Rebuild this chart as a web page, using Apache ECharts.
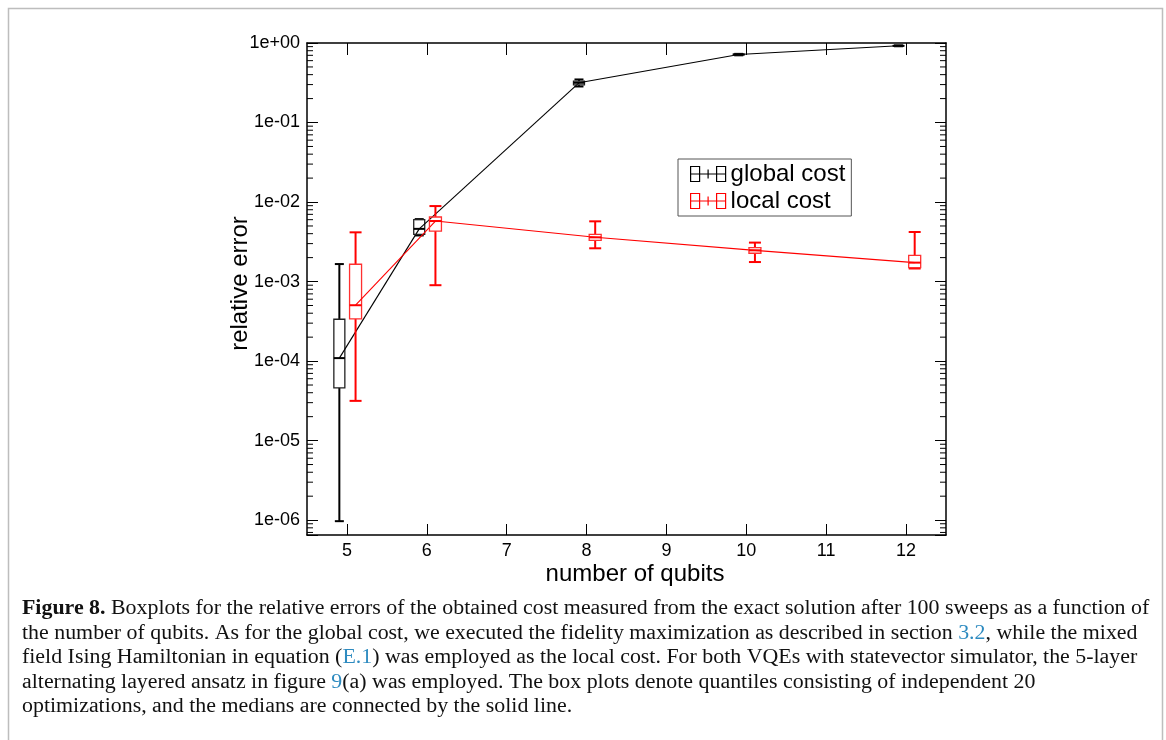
<!DOCTYPE html>
<html>
<head>
<meta charset="utf-8">
<script src="https://cdn.jsdelivr.net/npm/echarts/dist/echarts.min.js"></script>
<style>
  html, body { margin: 0; padding: 0; background: #fff; }
  #chart { width: 1166px; height: 740px; }
</style>
</head>
<body>
<div id="chart"></div>
<script>
// ---------------- data ----------------
const xTickLabels = ['5', '6', '7', '8', '9', '10', '11', '12'];
const yTickLabels = ['1e-06', '1e-05', '1e-04', '1e-03', '1e-02', '1e-01', '1e+00'];
const qubits = [5, 6, 8, 10, 12];

const globalMin    = [9.7e-7, 3.8e-3, 0.284, 0.700, 0.910];
const globalQ1     = [4.6e-5, 3.93e-3, 0.298, 0.710, 0.916];
const globalMedian = [1.09e-4, 4.6e-3, 0.316, 0.717, 0.922];
const globalQ3     = [3.36e-4, 6.0e-3, 0.331, 0.725, 0.928];
const globalMax    = [1.66e-3, 6.1e-3, 0.348, 0.730, 0.934];

const localMin    = [3.16e-5, 9.0e-4, 2.62e-3, 1.76e-3, 1.46e-3];
const localQ1     = [3.39e-4, 4.32e-3, 3.30e-3, 2.27e-3, 1.50e-3];
const localMedian = [5.04e-4, 5.77e-3, 3.60e-3, 2.47e-3, 1.73e-3];
const localQ3     = [1.65e-3, 6.48e-3, 3.93e-3, 2.67e-3, 2.14e-3];
const localMax    = [4.16e-3, 8.9e-3, 5.72e-3, 3.09e-3, 4.20e-3];

const captionLines = [
  '{b|Figure 8.} Boxplots for the relative errors of the obtained cost measured from the exact solution after 100 sweeps as a function of',
  'the number of qubits. As for the global cost, we executed the fidelity maximization as described in section {l|3.2}, while the mixed',
  'field Ising Hamiltonian in equation ({l|E.1}) was employed as the local cost. For both VQEs with statevector simulator, the 5-layer',
  'alternating layered ansatz in figure {l|9}(a) was employed. The box plots denote quantiles consisting of independent 20',
  'optimizations, and the medians are connected by the solid line.'
];

// ---------------- helpers ----------------
const Y_MIN = 6.5e-7, Y_MAX = 1;
function catIndex(q) { return xTickLabels.indexOf(String(q)); }
function buildBoxData(mn, q1, md, q3, mx) {
  return qubits.map((q, i) => [catIndex(q), mn[i], q1[i], md[i], q3[i], mx[i]]);
}
const globalData = buildBoxData(globalMin, globalQ1, globalMedian, globalQ3, globalMax);
const localData = buildBoxData(localMin, localQ1, localMedian, localQ3, localMax);

// minor log ticks (axis decoration)
const minorTickVals = [];
for (let k = -7; k <= 0; k++) {
  for (let m = 2; m <= 9; m++) {
    const v = m * Math.pow(10, k);
    if (v > Y_MIN && v < Y_MAX) minorTickVals.push(v);
  }
}

function makeBoxRender(data, opt) {
  return function (params, api) {
    const i = params.dataIndex;
    const cat = api.value(0);
    const band = api.coord([1, 1])[0] - api.coord([0, 1])[0];
    const cx = api.coord([cat, 1])[0] + opt.offset * band;
    const Y = v => api.coord([cat, v])[1];
    const yMin = Y(api.value(1)), yQ1 = Y(api.value(2)), yMed = Y(api.value(3)),
          yQ3 = Y(api.value(4)), yMax = Y(api.value(5));
    const bw = opt.box, cw = opt.cap;
    const children = [];
    if (i > 0) {
      const p = data[i - 1];
      const px = api.coord([p[0], 1])[0] + opt.offset * band;
      const py = api.coord([p[0], p[3]])[1];
      children.push({ type: 'line', shape: { x1: px, y1: py, x2: cx, y2: yMed },
        style: { stroke: opt.color, lineWidth: 1.1 } });
    }
    children.push({ type: 'line', shape: { x1: cx, y1: yQ1, x2: cx, y2: yMin }, style: { stroke: opt.color, lineWidth: 2 } });
    children.push({ type: 'line', shape: { x1: cx, y1: yQ3, x2: cx, y2: yMax }, style: { stroke: opt.color, lineWidth: 2 } });
    children.push({ type: 'line', shape: { x1: cx - cw / 2, y1: yMin, x2: cx + cw / 2, y2: yMin }, style: { stroke: opt.color, lineWidth: 2 } });
    children.push({ type: 'line', shape: { x1: cx - cw / 2, y1: yMax, x2: cx + cw / 2, y2: yMax }, style: { stroke: opt.color, lineWidth: 2 } });
    children.push({ type: 'rect', shape: { x: cx - bw / 2, y: yQ3, width: bw, height: Math.max(yQ1 - yQ3, 0.5) },
      style: { fill: 'none', stroke: opt.boxColor, lineWidth: 1.3 } });
    children.push({ type: 'line', shape: { x1: cx - bw / 2, y1: yMed, x2: cx + bw / 2, y2: yMed }, style: { stroke: opt.color, lineWidth: 2 } });
    return { type: 'group', children: children };
  };
}

// caption font fit
const CAPTION_WIDTH = 1128;
let capFs = 20;
(function () {
  const c = document.createElement('canvas').getContext('2d');
  c.font = 'bold 20px "Liberation Serif"';
  let w = c.measureText('Figure 8.').width;
  c.font = '20px "Liberation Serif"';
  w += c.measureText(' Boxplots for the relative errors of the obtained cost measured from the exact solution after 100 sweeps as a function of').width;
  capFs = 20 * CAPTION_WIDTH / w;
})();

const legendIcon = 'path://M0,0H9V15H0Z M26,0H35V15H26Z M0,7.5H35 M17.5,3V12';

const chart = echarts.init(document.getElementById('chart'), null, { renderer: 'canvas' });
const axisColor = '#000';
const option = {
  animation: false,
  backgroundColor: '#fff',
  grid: { left: 307, right: 220, top: 43, bottom: 205, containLabel: false },
  legend: {
    orient: 'vertical', left: 678, top: 159,
    selectedMode: false,
    data: [
      { name: 'global cost', icon: legendIcon, itemStyle: { color: 'rgba(0,0,0,0)', borderColor: '#000', borderWidth: 1.2 } },
      { name: 'local cost', icon: legendIcon, itemStyle: { color: 'rgba(0,0,0,0)', borderColor: '#ff0000', borderWidth: 1.2 } }
    ],
    itemWidth: 35, itemHeight: 15, itemGap: 3,
    textStyle: { fontSize: 24, fontFamily: '"Liberation Sans", Arial', color: '#000' },
    borderColor: '#555', borderWidth: 1, padding: [3, 6, 3, 12], backgroundColor: '#fff'
  },
  xAxis: [
    {
      type: 'category', data: xTickLabels, boundaryGap: true, position: 'bottom',
      name: 'number of qubits', nameLocation: 'middle', nameGap: 27, nameMoveOverlap: false,
      nameTextStyle: { fontSize: 24, fontFamily: '"Liberation Sans", Arial', color: '#000', padding: [0, 0, 0, 17] },
      axisLine: { show: true, onZero: false, lineStyle: { color: axisColor, width: 1.5 } },
      axisTick: { show: true, inside: true, alignWithLabel: true, length: 11, lineStyle: { color: axisColor, width: 1 } },
      axisLabel: { fontSize: 18, fontFamily: '"Liberation Sans", Arial', color: '#000', margin: 7 },
      splitLine: { show: false }
    },
    {
      type: 'category', data: xTickLabels, boundaryGap: true, position: 'top',
      axisLine: { show: true, onZero: false, lineStyle: { color: axisColor, width: 1.5 } },
      axisTick: { show: true, inside: true, alignWithLabel: true, length: 12, lineStyle: { color: axisColor, width: 1 } },
      axisLabel: { show: false },
      splitLine: { show: false }
    }
  ],
  yAxis: [
    {
      type: 'log', logBase: 10, min: Y_MIN, max: Y_MAX, position: 'left',
      name: 'relative error', nameLocation: 'middle', nameGap: 55, nameRotate: 90, nameMoveOverlap: false,
      nameTextStyle: { fontSize: 24, fontFamily: '"Liberation Sans", Arial', color: '#000', padding: [0, 0, 0, 11] },
      axisLine: { show: true, onZero: false, lineStyle: { color: axisColor, width: 1.5 } },
      axisTick: { show: true, inside: true, length: 11, lineStyle: { color: axisColor, width: 1 } },
      axisLabel: {
        fontSize: 18, fontFamily: '"Liberation Sans", Arial', color: '#000', margin: 7,
        formatter: function (v) {
          const l = Math.log10(v), e = Math.round(l);
          if (Math.abs(l - e) > 1e-6) return '';
          const idx = e + 6;
          return (idx >= 0 && idx < yTickLabels.length) ? yTickLabels[idx] : '';
        }
      },
      splitLine: { show: false }
    },
    {
      type: 'log', logBase: 10, min: Y_MIN, max: Y_MAX, position: 'right',
      axisLine: { show: true, onZero: false, lineStyle: { color: axisColor, width: 1.5 } },
      axisTick: { show: true, inside: true, length: 11, lineStyle: { color: axisColor, width: 1 } },
      axisLabel: { show: false },
      splitLine: { show: false }
    }
  ],
  series: [
    {
      type: 'custom', name: 'minor ticks', silent: true, clip: false,
      xAxisIndex: 0, yAxisIndex: 0,
      data: minorTickVals.map(v => [0, v]),
      encode: { x: 0, y: 1 },
      renderItem: function (params, api) {
        const y = api.coord([0, api.value(1)])[1];
        const cs = params.coordSys;
        return {
          type: 'group', children: [
            { type: 'line', shape: { x1: cs.x, y1: y, x2: cs.x + 6, y2: y }, style: { stroke: '#000', lineWidth: 1 } },
            { type: 'line', shape: { x1: cs.x + cs.width - 6, y1: y, x2: cs.x + cs.width, y2: y }, style: { stroke: '#000', lineWidth: 1 } }
          ]
        };
      }
    },
    {
      type: 'custom', name: 'global cost', clip: false,
      xAxisIndex: 0, yAxisIndex: 0,
      itemStyle: { color: '#000' },
      data: globalData,
      encode: { x: 0, y: [1, 2, 3, 4, 5] },
      renderItem: makeBoxRender(globalData, { offset: -0.095, box: 11, cap: 9, color: '#000', boxColor: '#222' })
    },
    {
      type: 'custom', name: 'local cost', clip: false,
      xAxisIndex: 0, yAxisIndex: 0,
      itemStyle: { color: '#ff0000' },
      data: localData,
      encode: { x: 0, y: [1, 2, 3, 4, 5] },
      renderItem: makeBoxRender(localData, { offset: 0.108, box: 12, cap: 12, color: '#ff0000', boxColor: '#ff3030' })
    }
  ],
  graphic: [
    {
      type: 'rect', silent: true, z: -10,
      shape: { x: 8.5, y: 8.5, width: 1154, height: 800 },
      style: { fill: 'none', stroke: '#bdbdbd', lineWidth: 1.5 }
    },
    {
      type: 'text', left: 22, top: 596, silent: true,
      style: {
        text: captionLines.join('\n'),
        fill: '#111',
        fontSize: capFs,
        fontFamily: '"Liberation Serif", serif',
        lineHeight: 24.5,
        rich: {
          b: { fontWeight: 'bold', fontSize: capFs, fontFamily: '"Liberation Serif", serif', fill: '#111', lineHeight: 24.5 },
          l: { fontSize: capFs, fontFamily: '"Liberation Serif", serif', fill: '#2e8bc0', lineHeight: 24.5 }
        }
      }
    }
  ]
};
chart.setOption(option);
</script>
</body>
</html>
